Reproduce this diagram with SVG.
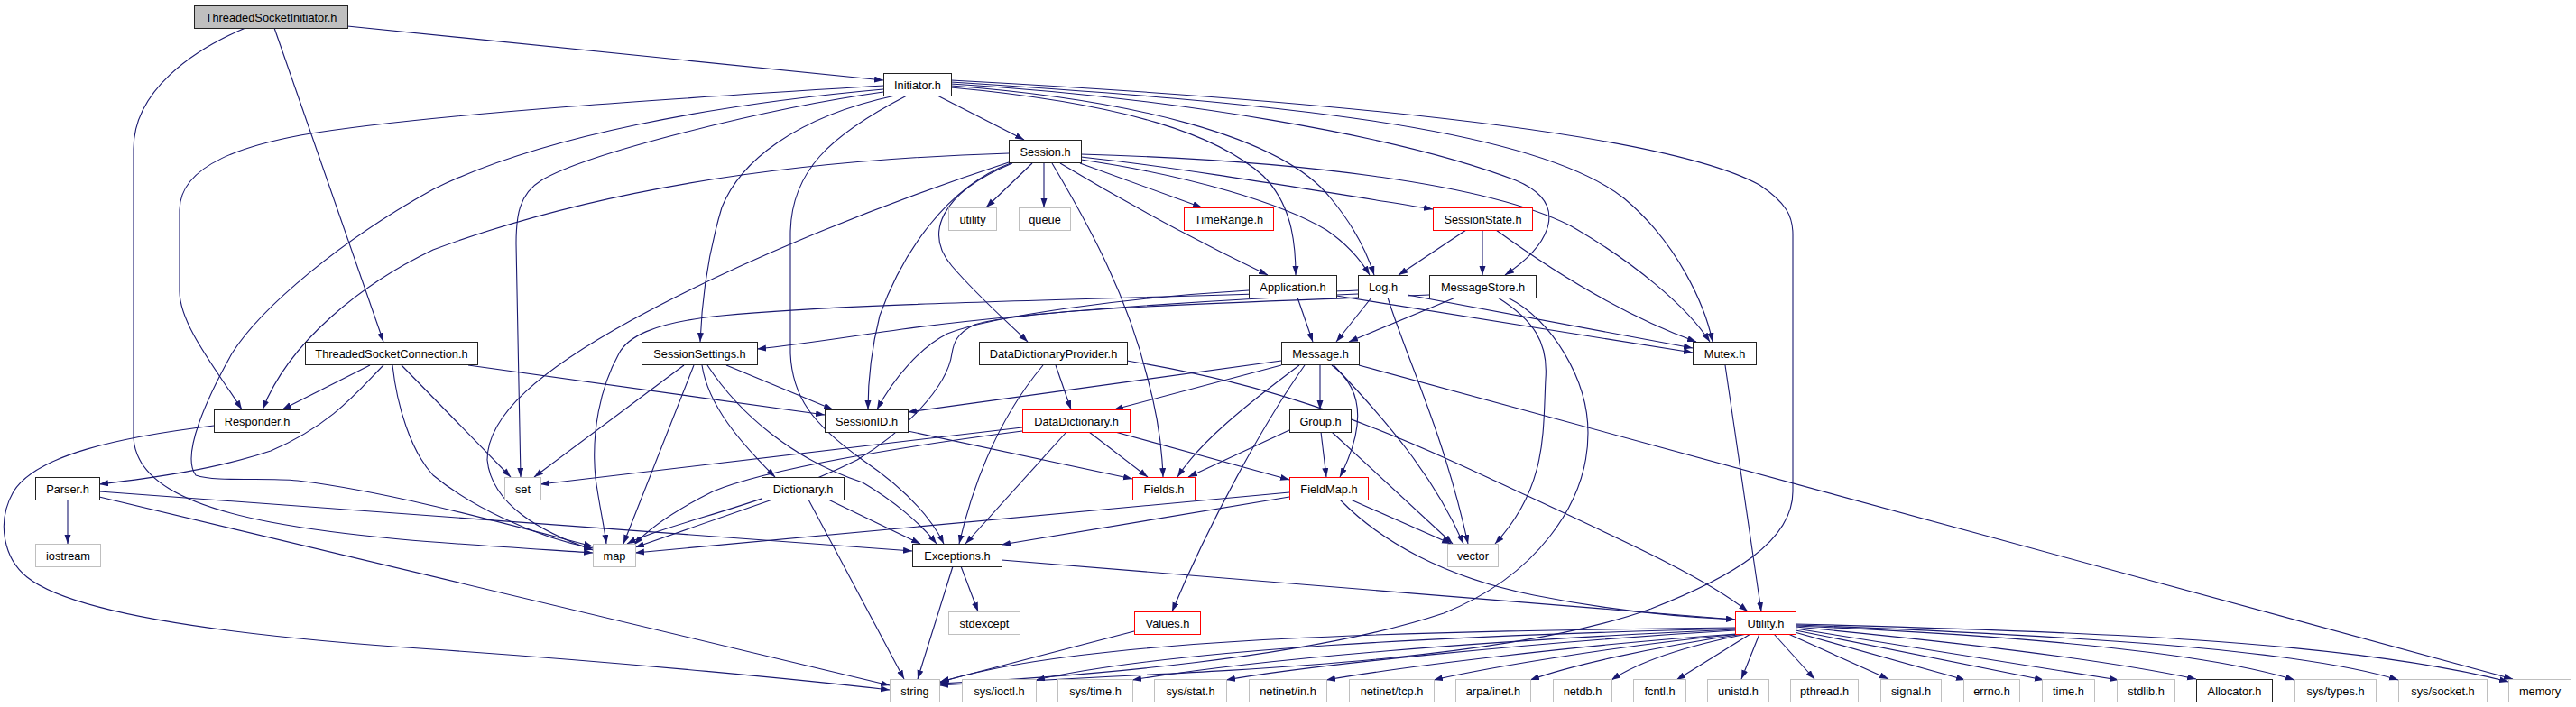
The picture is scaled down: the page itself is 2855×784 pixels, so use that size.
<svg xmlns="http://www.w3.org/2000/svg" width="2855" height="784" viewBox="0 0 2855 784">
<style>
.n rect{fill:#fff;stroke:#222;stroke-width:1}
.n.ext rect{stroke:#bfbfbf}
.n.tr rect{stroke:#ff0000}
.n.root rect{fill:#bfbfbf}
.n text{font-family:"Liberation Sans",Arial,sans-serif;font-size:12.8px;fill:#000;text-anchor:middle}
#edges path{fill:none;stroke:#191970;stroke-width:1.1;marker-end:url(#ah)}
</style>
<defs>
<marker id="ah" markerUnits="userSpaceOnUse" markerWidth="11" markerHeight="8" refX="10" refY="3.5" orient="auto">
<path d="M0,0 L10,3.5 L0,7 z" fill="#191970"/>
</marker>
</defs>
<rect width="2855" height="784" fill="#fff"/>
<g id="edges">
<path d="M385,29 L979,89"/>
<path d="M304,31 L425,379"/>
<path d="M272,31 C215,55 148,100 148,165 L148,485 C150,530 200,560 300,579 C400,598 520,604 657,613"/>
<path d="M1039,106 L1135,155"/>
<path d="M979,95 C800,106 480,125 333,150 C280,160 199,180 199,233 L199,323 C199,360 240,410 268,454"/>
<path d="M979,99 C800,115 600,150 480,210 C380,265 290,340 257,392 C230,440 200,505 217,527 C240,535 290,529 330,533 C430,545 550,578 657,606"/>
<path d="M979,102 C850,120 650,170 600,200 C575,215 572,240 572,270 L577,529"/>
<path d="M992,106 C880,130 820,180 800,230 C785,280 778,330 776,379"/>
<path d="M1005,106 C920,150 876,190 876,260 L876,392 C878,440 900,470 956,510 C1000,540 1030,570 1046,603"/>
<path d="M1054,97 C1250,115 1350,150 1400,195 C1430,225 1436,265 1436,305"/>
<path d="M1054,95 C1250,110 1420,150 1475,220 C1500,250 1515,280 1523,305"/>
<path d="M1054,93 C1300,108 1550,150 1680,200 C1740,225 1720,270 1668,305"/>
<path d="M1054,91 C1400,113 1700,140 1800,220 C1860,270 1890,340 1898,379"/>
<path d="M1054,89 C1500,113 1850,150 1950,205 C1980,225 1987,240 1987,260 L1987,545 C1987,600 1920,640 1830,675 C1650,740 1300,745 1041,760"/>
<path d="M1118,170 C950,175 700,195 480,277 C400,315 320,380 291,454"/>
<path d="M1118,180 C950,235 800,300 700,355 C600,410 540,460 540,510 C545,560 600,590 657,610"/>
<path d="M1120,181 C1050,207 1000,280 975,350 C965,390 962,420 962,454"/>
<path d="M1122,181 C1040,215 1025,260 1055,295 C1085,330 1120,360 1139,379"/>
<path d="M1144,181 L1093,230"/>
<path d="M1157,181 L1157,230"/>
<path d="M1166,181 C1210,255 1250,330 1272,420 C1283,460 1288,500 1289,529"/>
<path d="M1175,181 Q1290,250 1405,305"/>
<path d="M1197,181 L1332,230"/>
<path d="M1198,171 C1450,178 1650,205 1740,250 C1810,290 1870,340 1895,379"/>
<path d="M1198,174 C1300,185 1420,205 1588,232"/>
<path d="M1198,177 C1320,195 1420,225 1470,255 C1495,272 1508,288 1518,305"/>
<path d="M1625,255 L1550,305"/>
<path d="M1643,255 L1643,305"/>
<path d="M1658,255 C1720,300 1800,350 1880,379"/>
<path d="M1438,330 L1455,379"/>
<path d="M1384,322 C1250,330 1100,350 1050,370 C1020,385 990,420 972,454"/>
<path d="M1481,328 L1876,391"/>
<path d="M1520,330 L1481,379"/>
<path d="M1538,330 C1560,400 1600,480 1627,603"/>
<path d="M1560,327 L1876,386"/>
<path d="M1505,326 C1350,332 1150,345 1000,365 C930,375 880,383 839,387"/>
<path d="M1505,322 C1250,332 950,335 800,350 C720,358 695,375 686,392 C665,430 655,480 660,530 C664,560 670,585 672,603"/>
<path d="M1584,327 C1400,335 1150,340 1080,360 C1060,370 1057,380 1055,392 C1050,430 1000,480 950,510 C850,560 740,580 695,603"/>
<path d="M1613,330 L1495,379"/>
<path d="M1660,330 C1700,355 1716,380 1713,420 C1710,480 1715,540 1657,603"/>
<path d="M1671,330 C1720,355 1760,420 1760,480 C1760,560 1700,640 1600,680 C1450,730 1200,750 1041,758"/>
<path d="M758,405 L592,529"/>
<path d="M769,405 L691,603"/>
<path d="M778,405 C785,450 820,490 859,529"/>
<path d="M784,405 C820,460 880,510 956,535 C990,555 1020,580 1038,603"/>
<path d="M805,405 L923,454"/>
<path d="M410,405 L313,454"/>
<path d="M425,405 C400,430 370,470 300,500 C240,520 170,530 110,537"/>
<path d="M435,405 C440,450 455,500 480,527 C520,560 590,595 657,608"/>
<path d="M445,405 L566,529"/>
<path d="M519,405 L914,460"/>
<path d="M237,472 C130,485 40,505 15,545 C-5,580 5,620 30,640 C80,680 250,705 480,720 C700,735 900,755 986,765"/>
<path d="M75,554 L75,603"/>
<path d="M110,545 L1011,611"/>
<path d="M110,551 L986,760"/>
<path d="M1006,478 L1255,531"/>
<path d="M1170,405 L1187,454"/>
<path d="M1156,405 C1110,460 1080,530 1063,603"/>
<path d="M1249,400 C1400,425 1500,460 1650,530 C1800,600 1890,640 1937,678"/>
<path d="M1420,400 L1006,457"/>
<path d="M1420,405 L1235,454"/>
<path d="M1440,405 C1380,450 1330,490 1305,529"/>
<path d="M1463,405 L1463,454"/>
<path d="M1476,405 C1510,430 1515,470 1485,529"/>
<path d="M1478,405 C1540,470 1590,530 1622,603"/>
<path d="M1446,405 C1400,470 1340,580 1299,678"/>
<path d="M1506,405 L2785,753"/>
<path d="M1429,477 L1317,529"/>
<path d="M1464,479 L1470,529"/>
<path d="M1476,479 L1610,603"/>
<path d="M1133,474 C1000,488 800,513 599,537"/>
<path d="M1133,478 C1000,495 850,520 790,545 C750,565 720,585 703,604"/>
<path d="M1207,479 L1272,529"/>
<path d="M1236,479 L1429,532"/>
<path d="M1182,479 L1070,603"/>
<path d="M856,554 L704,607"/>
<path d="M896,554 L1002,753"/>
<path d="M918,554 L1020,603"/>
<path d="M1429,546 L704,613"/>
<path d="M1429,551 L1110,604"/>
<path d="M1497,554 L1608,603"/>
<path d="M1485,554 C1530,600 1600,640 1700,660 C1800,680 1880,685 1923,687"/>
<path d="M1065,628 L1084,678"/>
<path d="M1056,628 L1017,753"/>
<path d="M1110,621 L1923,687"/>
<path d="M1257,700 L1042,756"/>
<path d="M1912,405 L1952,678"/>
<path d="M1923,696 C1600,700 1200,705 1041,757"/>
<path d="M1923,697 C1600,705 1300,720 1148,754"/>
<path d="M1923,698 C1650,710 1400,730 1255,754"/>
<path d="M1923,699 C1700,712 1450,738 1359,754"/>
<path d="M1925,703 C1750,715 1550,740 1470,754"/>
<path d="M1928,703 C1800,715 1650,740 1589,754"/>
<path d="M1932,703 C1830,718 1740,738 1696,754"/>
<path d="M1936,703 C1850,720 1810,738 1786,754"/>
<path d="M1940,703 L1858,754"/>
<path d="M1950,703 L1930,753"/>
<path d="M1966,703 L2011,753"/>
<path d="M1982,703 L2093,753"/>
<path d="M1989,701 L2178,754"/>
<path d="M1990,699 L2265,754"/>
<path d="M1990,697 L2348,754"/>
<path d="M1990,695 C2200,715 2350,735 2434,753"/>
<path d="M1990,694 C2250,705 2450,725 2543,754"/>
<path d="M1990,693 C2300,705 2550,720 2658,754"/>
<path d="M1990,692 C2300,700 2600,710 2780,756"/>
</g>
<g id="n_tsi" class="n root"><rect x="215.5" y="6.5" width="170" height="25"/><text x="300.5" y="23.5">ThreadedSocketInitiator.h</text></g>
<g id="n_initiator" class="n"><rect x="979.5" y="81.5" width="75" height="25"/><text x="1017" y="98.5">Initiator.h</text></g>
<g id="n_session" class="n"><rect x="1118.5" y="155.5" width="80" height="25"/><text x="1158.5" y="172.5">Session.h</text></g>
<g id="n_utility_std" class="n ext"><rect x="1051.5" y="230.5" width="53" height="25"/><text x="1078" y="247.5">utility</text></g>
<g id="n_queue" class="n ext"><rect x="1129.5" y="230.5" width="57" height="25"/><text x="1158" y="247.5">queue</text></g>
<g id="n_timerange" class="n tr"><rect x="1312.5" y="230.5" width="99" height="25"/><text x="1362" y="247.5">TimeRange.h</text></g>
<g id="n_sessionstate" class="n tr"><rect x="1588.5" y="230.5" width="110" height="25"/><text x="1643.5" y="247.5">SessionState.h</text></g>
<g id="n_application" class="n"><rect x="1384.5" y="305.5" width="97" height="25"/><text x="1433" y="322.5">Application.h</text></g>
<g id="n_log" class="n"><rect x="1505.5" y="305.5" width="55" height="25"/><text x="1533" y="322.5">Log.h</text></g>
<g id="n_messagestore" class="n"><rect x="1584.5" y="305.5" width="118" height="25"/><text x="1643.5" y="322.5">MessageStore.h</text></g>
<g id="n_tsc" class="n"><rect x="338.5" y="379.5" width="191" height="25"/><text x="434" y="396.5">ThreadedSocketConnection.h</text></g>
<g id="n_sessionsettings" class="n"><rect x="711.5" y="379.5" width="128" height="25"/><text x="775.5" y="396.5">SessionSettings.h</text></g>
<g id="n_ddp" class="n"><rect x="1085.5" y="379.5" width="164" height="25"/><text x="1167.5" y="396.5">DataDictionaryProvider.h</text></g>
<g id="n_message" class="n"><rect x="1420.5" y="379.5" width="86" height="25"/><text x="1463.5" y="396.5">Message.h</text></g>
<g id="n_mutex" class="n"><rect x="1876.5" y="379.5" width="70" height="25"/><text x="1911.5" y="396.5">Mutex.h</text></g>
<g id="n_responder" class="n"><rect x="237.5" y="454.5" width="95" height="25"/><text x="285" y="471.5">Responder.h</text></g>
<g id="n_sessionid" class="n"><rect x="914.5" y="454.5" width="92" height="25"/><text x="960.5" y="471.5">SessionID.h</text></g>
<g id="n_datadictionary" class="n tr"><rect x="1133.5" y="454.5" width="119" height="25"/><text x="1193" y="471.5">DataDictionary.h</text></g>
<g id="n_group" class="n"><rect x="1429.5" y="454.5" width="68" height="25"/><text x="1463.5" y="471.5">Group.h</text></g>
<g id="n_parser" class="n"><rect x="39.5" y="529.5" width="71" height="25"/><text x="75" y="546.5">Parser.h</text></g>
<g id="n_set" class="n ext"><rect x="559.5" y="529.5" width="40" height="25"/><text x="579.5" y="546.5">set</text></g>
<g id="n_dictionary" class="n"><rect x="844.5" y="529.5" width="91" height="25"/><text x="890" y="546.5">Dictionary.h</text></g>
<g id="n_fields" class="n tr"><rect x="1255.5" y="529.5" width="69" height="25"/><text x="1290" y="546.5">Fields.h</text></g>
<g id="n_fieldmap" class="n tr"><rect x="1429.5" y="529.5" width="87" height="25"/><text x="1473" y="546.5">FieldMap.h</text></g>
<g id="n_iostream" class="n ext"><rect x="39.5" y="603.5" width="72" height="25"/><text x="75.5" y="620.5">iostream</text></g>
<g id="n_map" class="n ext"><rect x="657.5" y="603.5" width="47" height="25"/><text x="681" y="620.5">map</text></g>
<g id="n_exceptions" class="n"><rect x="1011.5" y="603.5" width="99" height="25"/><text x="1061" y="620.5">Exceptions.h</text></g>
<g id="n_vector" class="n ext"><rect x="1604.5" y="603.5" width="56" height="25"/><text x="1632.5" y="620.5">vector</text></g>
<g id="n_stdexcept" class="n ext"><rect x="1051.5" y="678.5" width="79" height="25"/><text x="1091" y="695.5">stdexcept</text></g>
<g id="n_values" class="n tr"><rect x="1257.5" y="678.5" width="73" height="25"/><text x="1294" y="695.5">Values.h</text></g>
<g id="n_utility" class="n tr"><rect x="1923.5" y="678.5" width="67" height="25"/><text x="1957" y="695.5">Utility.h</text></g>
<g id="n_string" class="n ext"><rect x="986.5" y="753.5" width="55" height="25"/><text x="1014" y="770.5">string</text></g>
<g id="n_sys_ioctl" class="n ext"><rect x="1066.5" y="753.5" width="82" height="25"/><text x="1107.5" y="770.5">sys/ioctl.h</text></g>
<g id="n_sys_time" class="n ext"><rect x="1172.5" y="753.5" width="83" height="25"/><text x="1214" y="770.5">sys/time.h</text></g>
<g id="n_sys_stat" class="n ext"><rect x="1279.5" y="753.5" width="80" height="25"/><text x="1319.5" y="770.5">sys/stat.h</text></g>
<g id="n_netinet_in" class="n ext"><rect x="1384.5" y="753.5" width="86" height="25"/><text x="1427.5" y="770.5">netinet/in.h</text></g>
<g id="n_netinet_tcp" class="n ext"><rect x="1495.5" y="753.5" width="94" height="25"/><text x="1542.5" y="770.5">netinet/tcp.h</text></g>
<g id="n_arpa_inet" class="n ext"><rect x="1613.5" y="753.5" width="83" height="25"/><text x="1655" y="770.5">arpa/inet.h</text></g>
<g id="n_netdb" class="n ext"><rect x="1721.5" y="753.5" width="65" height="25"/><text x="1754" y="770.5">netdb.h</text></g>
<g id="n_fcntl" class="n ext"><rect x="1810.5" y="753.5" width="58" height="25"/><text x="1839.5" y="770.5">fcntl.h</text></g>
<g id="n_unistd" class="n ext"><rect x="1892.5" y="753.5" width="68" height="25"/><text x="1926.5" y="770.5">unistd.h</text></g>
<g id="n_pthread" class="n ext"><rect x="1984.5" y="753.5" width="75" height="25"/><text x="2022" y="770.5">pthread.h</text></g>
<g id="n_signal" class="n ext"><rect x="2084.5" y="753.5" width="67" height="25"/><text x="2118" y="770.5">signal.h</text></g>
<g id="n_errno" class="n ext"><rect x="2176.5" y="753.5" width="62" height="25"/><text x="2207.5" y="770.5">errno.h</text></g>
<g id="n_time" class="n ext"><rect x="2263.5" y="753.5" width="58" height="25"/><text x="2292.5" y="770.5">time.h</text></g>
<g id="n_stdlib" class="n ext"><rect x="2346.5" y="753.5" width="64" height="25"/><text x="2378.5" y="770.5">stdlib.h</text></g>
<g id="n_allocator" class="n"><rect x="2434.5" y="753.5" width="84" height="25"/><text x="2476.5" y="770.5">Allocator.h</text></g>
<g id="n_sys_types" class="n ext"><rect x="2543.5" y="753.5" width="90" height="25"/><text x="2588.5" y="770.5">sys/types.h</text></g>
<g id="n_sys_socket" class="n ext"><rect x="2658.5" y="753.5" width="98" height="25"/><text x="2707.5" y="770.5">sys/socket.h</text></g>
<g id="n_memory" class="n ext"><rect x="2780.5" y="753.5" width="69" height="25"/><text x="2815" y="770.5">memory</text></g>
</svg>
